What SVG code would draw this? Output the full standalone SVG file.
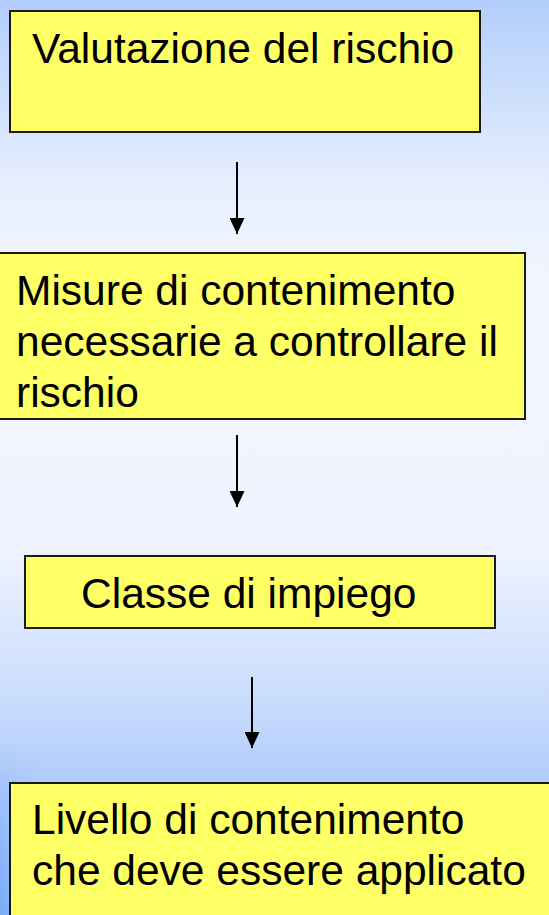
<svg xmlns="http://www.w3.org/2000/svg" width="549" height="915" viewBox="0 0 549 915">
  <defs>
    <linearGradient id="bg" x1="0" y1="0" x2="0" y2="1">
      <stop offset="0" stop-color="#b2cefb"/>
      <stop offset="0.2" stop-color="#e6eefe"/>
      <stop offset="0.32" stop-color="#f3f6ff"/>
      <stop offset="0.6" stop-color="#eef3ff"/>
      <stop offset="0.75" stop-color="#cddefd"/>
      <stop offset="0.86" stop-color="#afcbfb"/>
      <stop offset="1" stop-color="#a2c3fb"/>
    </linearGradient>
    <linearGradient id="edge" x1="0" y1="0" x2="1" y2="0">
      <stop offset="0" stop-color="#5c9cf5" stop-opacity="0.6"/>
      <stop offset="1" stop-color="#5c9cf5" stop-opacity="0"/>
    </linearGradient>
    <linearGradient id="edgefade" x1="0" y1="0" x2="0" y2="1">
      <stop offset="0" stop-color="#fff" stop-opacity="0"/>
      <stop offset="1" stop-color="#fff" stop-opacity="1"/>
    </linearGradient>
    <mask id="m">
      <rect x="0" y="740" width="40" height="175" fill="url(#edgefade)"/>
    </mask>
    <marker id="arr" viewBox="0 0 16 15" refX="16" refY="7.5" markerWidth="16" markerHeight="15" markerUnits="userSpaceOnUse" orient="auto">
      <path d="M0,0 L16,7.5 L0,15 Z" fill="#000"/>
    </marker>
  </defs>
  <style>
    .box { fill: #ffff66; stroke: #1a1a1a; stroke-width: 2; }
    .lbl { font-family: "Liberation Sans", Arial, sans-serif; font-size: 42.5px; fill: #000; }
    .conn { stroke: #000; stroke-width: 2; fill: none; marker-end: url(#arr); }
  </style>
  <rect x="0" y="0" width="549" height="915" fill="url(#bg)"/>
  <rect x="0" y="740" width="40" height="175" fill="url(#edge)" mask="url(#m)"/>

  <g id="connectors">
    <line class="conn" x1="237" y1="162" x2="237" y2="234"/>
    <line class="conn" x1="237" y1="435" x2="237" y2="507"/>
    <line class="conn" x1="252" y1="677" x2="252" y2="748"/>
  </g>

  <g id="node-valutazione">
    <rect class="box" x="10" y="11" width="470" height="121"/>
    <text class="lbl" x="32" y="63">Valutazione del rischio</text>
  </g>

  <g id="node-misure">
    <rect class="box" x="-5" y="253" width="530" height="166"/>
    <text class="lbl" x="16" y="305">Misure di contenimento</text>
    <text class="lbl" x="16" y="356">necessarie a controllare il</text>
    <text class="lbl" x="16" y="407">rischio</text>
  </g>

  <g id="node-classe">
    <rect class="box" x="25" y="556" width="470" height="72"/>
    <text class="lbl" x="81" y="608">Classe di impiego</text>
  </g>

  <g id="node-livello">
    <rect class="box" x="10" y="783" width="545" height="140"/>
    <text class="lbl" x="32" y="834">Livello di contenimento</text>
    <text class="lbl" x="32" y="885">che deve essere applicato</text>
  </g>
</svg>
